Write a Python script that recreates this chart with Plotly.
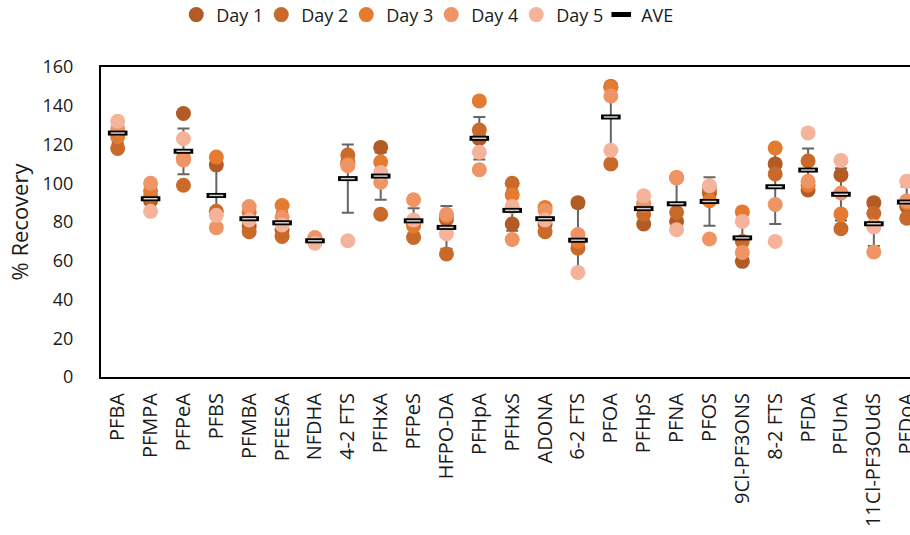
import plotly.graph_objects as go

categories = ["PFBA", "PFMPA", "PFPeA", "PFBS", "PFMBA", "PFEESA", "NFDHA", "4-2 FTS",
              "PFHxA", "PFPeS", "HFPO-DA", "PFHpA", "PFHxS", "ADONA", "6-2 FTS", "PFOA",
              "PFHpS", "PFNA", "PFOS", "9Cl-PF3ONS", "8-2 FTS", "PFDA", "PFUnA",
              "11Cl-PF3OUdS", "PFDoA"]

day1 = [126, 91, 136, 109.5, 78, 76, 70, 111, 118.5, 80, 81.5, 123, 79, 79, 90, 150,
        79, 80.3, 95, 59.7, 110, 96.5, 104.3, 90, 88]
day2 = [118, 93, 99, 85.5, 75, 72.5, 70.5, 114.6, 84, 72, 63.5, 127.5, 100, 75, 66.5, 110,
        84, 85, 97, 70, 104.8, 111.5, 76.5, 84.5, 82]
day3 = [124, 96, 113, 113.5, 85, 88.5, 71, 110, 111, 78, 83, 142.5, 94, 87.5, 70, 149.5,
        88.5, 103, 91, 85.2, 118.2, 99, 84.1, 78, 90]
day4 = [128, 100, 112, 77, 88, 82.5, 72, 109, 100.5, 91.5, 84, 107, 71, 86, 73.5, 145,
        89.5, 102.7, 71.2, 64.3, 89, 101, 95, 64.5, 91]
day5 = [132, 85.5, 123, 83.5, 81, 78.5, 69, 70.3, 105.5, 81, 74, 116, 88, 81, 54, 117,
        93.5, 76, 98.7, 80.3, 70, 126, 111.8, 77.5, 101]
ave = [125.9, 92.0, 116.5, 93.7, 81.7, 79.6, 70.3, 102.4, 103.7, 80.6, 77.2, 123.2, 86.0,
       81.7, 70.6, 134.2, 86.9, 89.4, 90.6, 71.8, 98.2, 106.8, 94.3, 79.1, 90.3]
sd = [5, 5, 11.8, 14.8, 4.5, 5.5, 1, 17.6, 12.2, 6.5, 11, 11, 10.5, 4.5, 17, 17.5,
      5, 12.5, 12.5, 9, 19.2, 11.2, 13.5, 11.5, 8]

day_names = ["Day 1", "Day 2", "Day 3", "Day 4", "Day 5"]
day_colors = ["#B25B24", "#C96A2B", "#E47B30", "#EF9464", "#F4B39A"]
y_ticks = [0, 20, 40, 60, 80, 100, 120, 140, 160]

FONT = "Open Sans"

fig = go.Figure()

# error bars (drawn beneath the day markers)
fig.add_trace(go.Scatter(
    x=categories, y=ave, mode="markers",
    marker=dict(size=1, opacity=0),
    error_y=dict(type="data", array=sd, visible=True, color="#666666",
                 thickness=2, width=6),
    showlegend=False, hoverinfo="skip", cliponaxis=False))

for name, vals, col in zip(day_names, [day1, day2, day3, day4, day5], day_colors):
    fig.add_trace(go.Scatter(
        x=categories, y=vals, mode="markers", name=name,
        marker=dict(size=15, color=col, line=dict(width=0)),
        cliponaxis=False))

fig.add_trace(go.Scatter(
    x=categories, y=ave, mode="markers", name="AVE",
    marker=dict(symbol="line-ew", size=14, line=dict(width=5, color="#000000")),
    cliponaxis=False))
fig.add_trace(go.Scatter(
    x=categories, y=ave, mode="markers", name="AVE", showlegend=False,
    marker=dict(symbol="line-ew", size=10, line=dict(width=1.5, color="#D0D0D0")),
    hoverinfo="skip", cliponaxis=False))

fig.update_layout(
    width=910, height=535,
    margin=dict(l=101, r=0, t=67, b=158, autoexpand=False),
    paper_bgcolor="white", plot_bgcolor="white",
    font=dict(family=FONT, size=18, color="#1a1a1a"),
    showlegend=True,
    legend=dict(orientation="h", x=0.093, xanchor="left", y=1.168, yanchor="middle",
                entrywidth=40, font=dict(size=18), bgcolor="rgba(0,0,0,0)",
                itemclick=False, tracegroupgap=0),
    xaxis=dict(range=[-0.508, 24.1], showgrid=False, zeroline=False,
               showline=True, mirror=True, linecolor="#000000", linewidth=2,
               tickangle=-90, tickfont=dict(size=20, family=FONT), ticks="",
               ticklabelstandoff=6),
    yaxis=dict(range=[0, 160], tickvals=y_ticks, showgrid=False, zeroline=False,
               showline=True, mirror=False, linecolor="#000000", linewidth=2,
               ticks="", tickfont=dict(size=18, family=FONT),
               ticklabelstandoff=22,
               title=dict(text="% Recovery", font=dict(size=22, family=FONT), standoff=8)),
)

fig.write_html("out.html", config={"displayModeBar": False},
               post_script="document.body.style.margin='0';")
